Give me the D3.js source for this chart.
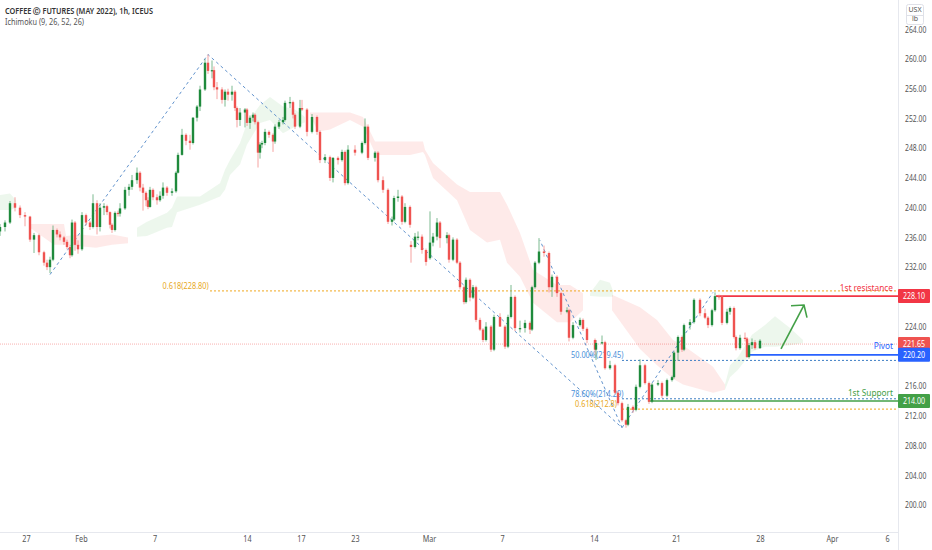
<!DOCTYPE html>
<html>
<head>
<meta charset="UTF-8">
<title>Coffee futures</title>
<style>
    html, body { margin: 0; padding: 0; background: #fff; overflow: hidden; }
    text { font-family: "Noto Sans", sans-serif; }
    .axis path, .axis line { display: none; }
    .axis text { font-size: 8.5px; fill: #555; font-family: "Noto Sans", sans-serif; }
</style>
<script src="https://cdn.jsdelivr.net/npm/d3@7"></script>
</head>
<body>
<div id="chart"></div>
<script>
// bar number (2 px a bar on the picture), open, high, low, close
const candles = [
[0,236.8,237.8,236.2,237.4],[2.5,237.4,238.3,236.8,238.0],[5,238.0,240.9,237.8,240.6],[7.5,240.6,241.4,239.5,240.0],
[10,240.0,240.3,238.6,239.0],[12.5,239.0,239.4,237.5,238.8],[15,238.8,238.9,235.4,235.7],[17,235.7,236.6,233.9,236.3],
[19.5,236.3,236.5,233.6,234.0],[22,234.0,234.2,232.2,232.6],[23.5,232.6,233.0,231.6,232.0],[25,232.0,233.4,231.2,233.0],
[26.5,233.0,237.6,232.8,237.0],[28.5,237.0,237.2,236.0,236.4],[30,236.4,236.8,235.6,236.0],[32,236.0,236.2,235.0,235.4],
[33.5,235.4,235.7,234.4,234.7],[35,234.7,235.0,233.2,233.6],[36,233.6,238.4,233.4,238.0],[37.5,238.0,238.2,234.2,235.0],
[39,235.0,235.6,233.8,234.4],[41,234.4,239.4,234.2,239.0],[43,239.0,239.2,237.6,238.0],[45,238.0,238.2,237.0,237.4],
[46.5,237.4,241.8,237.2,240.6],[48.5,240.6,241.0,236.4,237.4],[50,237.4,240.6,236.8,240.0],[52,240.0,240.6,239.0,240.2],
[53.5,240.2,240.4,239.0,239.4],[55,239.4,239.5,237.2,237.7],[56,237.7,237.9,236.6,237.0],[57.5,237.0,239.5,236.8,239.3],
[59,239.3,239.6,238.8,239.2],[60,239.2,240.6,238.8,239.9],[62.5,239.9,242.8,239.7,242.4],[64.5,242.4,243.2,241.6,242.8],
[66,242.8,244.4,242.4,243.7],[68.5,243.7,245.4,243.2,244.7],[70,244.7,244.9,242.2,242.7],[71.5,242.7,243.2,239.6,242.0],
[73,242.0,242.2,240.2,241.0],[74,241.0,241.4,239.8,240.1],[75,240.1,242.8,240.0,242.4],[76.5,242.4,242.6,241.0,241.4],
[78.5,241.4,241.8,240.4,241.0],[80,241.0,242.2,240.8,241.6],[81.5,241.6,243.4,241.2,242.7],[83.5,242.7,242.9,241.6,242.0],
[86,242.0,242.6,241.6,242.2],[88,242.2,244.9,242.0,244.7],[89,244.7,247.4,244.6,247.1],[91,247.1,250.6,247.0,249.8],
[93,249.8,250.0,248.4,249.0],[95,249.0,249.8,247.8,248.7],[96.5,248.7,252.2,248.5,252.1],[98.5,252.1,253.8,251.6,253.6],
[100,253.6,256.4,253.0,255.9],[102.5,255.9,260.0,255.7,259.5],[104,259.5,260.6,258.0,258.4],[106,258.4,259.8,257.4,258.5],
[107,258.5,259.0,255.8,256.2],[108.5,256.2,256.9,254.6,255.9],[111,255.9,256.2,254.0,254.5],[112.5,254.5,255.9,253.6,255.6],
[114,255.6,256.0,254.4,255.2],[116,255.2,256.4,254.4,255.6],[117.5,255.6,255.8,253.0,253.4],[118.5,253.4,253.6,250.8,251.8],
[120,251.8,253.4,251.0,252.8],[122.5,252.8,253.4,250.8,253.2],[123.5,253.2,253.4,251.0,251.4],[125,251.4,252.4,250.6,252.1],
[126.5,252.1,252.8,251.6,252.5],[127.5,252.5,252.7,251.2,251.5],[129,251.5,251.7,245.4,247.4],[130,247.4,248.8,246.6,248.5],
[131,248.5,249.0,248.0,248.7],[132.5,248.7,250.6,248.4,250.2],[134.5,250.2,250.4,249.4,249.8],[136.5,249.8,250.0,247.5,248.9],
[137.5,248.9,251.2,248.6,250.9],[139.5,250.9,251.8,250.6,251.5],[141.5,251.5,252.2,251.2,251.8],[142.5,251.8,254.4,251.6,254.1],
[145,254.1,254.9,253.4,254.2],[146.5,254.2,254.4,252.0,252.5],[147.5,252.5,252.7,250.6,250.9],[150,250.9,254.5,250.7,253.4],
[151,253.4,254.5,253.0,253.2],[153.5,253.2,253.4,249.6,250.2],[156,250.2,252.6,250.0,252.2],[158.5,252.2,252.4,249.8,250.2],
[160,250.2,250.4,246.0,246.4],[162.5,246.4,247.2,246.0,246.8],[165,246.8,247.0,243.6,244.0],[166.5,244.0,246.8,243.4,246.7],
[169,246.7,246.9,245.8,246.4],[171,246.4,247.8,246.2,247.5],[172.5,247.5,247.7,243.0,243.3],[174,243.3,248.4,243.1,247.8],
[177.5,247.8,248.4,247.0,247.4],[181,247.4,248.9,247.2,248.7],[182.5,248.7,252.0,248.5,250.9],[184,250.9,251.2,246.4,246.7],
[187.5,246.7,247.6,246.2,247.4],[189,247.4,247.6,243.4,243.7],[191.5,243.7,244.2,242.0,242.4],[194,242.4,242.6,237.8,238.1],
[196,238.1,238.8,237.6,238.4],[197,238.4,241.6,238.2,241.3],[199,241.3,242.4,240.8,241.5],[201,241.5,241.7,237.7,238.1],
[202.5,238.1,240.6,237.9,240.1],[205,240.1,240.3,237.3,237.7],
[205.5,235.0,235.5,232.6,234.7],[207.5,234.7,236.6,234.5,236.1],[209,236.1,236.8,235.6,236.1],[211,236.1,236.4,233.8,234.3],
[213,234.3,234.5,232.2,232.7],[215,233.2,239.5,233.0,235.3],[216.5,235.3,236.6,234.8,236.1],[218.5,236.1,238.6,235.6,238.0],
[220,238.0,238.2,234.6,235.9],[223.5,235.9,236.7,235.2,236.3],[224.5,236.3,236.5,232.6,233.0],[226.5,233.0,236.0,232.8,235.7],
[228.5,235.7,235.9,232.4,232.6],[230,232.6,232.8,229.0,229.3],[232,229.3,229.5,227.0,227.3],[233,227.3,230.6,227.1,230.3],
[235,230.3,230.5,227.4,227.9],[236.5,227.9,229.6,227.7,229.3],[238,229.3,229.5,224.6,224.9],[240,224.9,225.2,223.4,223.6],
[241.5,223.6,223.8,221.9,222.2],[243,222.2,224.6,222.0,224.0],[245.5,224.0,224.2,220.6,220.9],[247,220.9,225.6,220.7,225.3],
[250,225.3,225.8,224.0,224.0],[252.5,224.0,224.2,221.0,221.3],[254,221.3,225.6,221.1,225.3],[255.5,225.3,229.6,225.1,228.0],
[257.5,228.0,228.2,223.4,223.8],[260,223.8,224.8,223.2,223.8],[262.5,223.8,224.9,223.2,224.5],[265,224.5,224.7,223.0,223.6],
[266,223.6,229.5,223.4,229.3],[267.5,229.3,232.8,229.1,232.6],[269.5,232.6,235.9,232.4,234.1],[272,234.1,234.9,233.4,233.9],
[274.5,233.9,234.1,228.6,229.3],[276,229.3,231.0,228.0,230.7],[278.5,230.7,230.9,228.0,228.5],[280.5,228.5,228.7,225.6,226.0],
[283.5,226.0,226.6,225.8,226.2],[284.5,226.2,226.4,222.0,222.5],[286.5,222.5,224.6,222.3,224.2],[290,224.2,225.2,224.0,224.9],
[291.5,224.9,225.1,223.4,223.7],[293.5,223.7,223.9,221.8,222.2],[297.5,222.2,222.4,220.2,220.9],[298,220.9,222.2,219.5,221.8],
[301,221.8,222.8,221.6,221.9],[302.5,221.9,222.1,218.2,218.4],[305,218.4,219.4,218.2,218.8],[307.5,218.8,219.0,214.9,215.1],
[309,215.1,215.3,213.4,213.7],[311,213.7,213.9,211.2,211.4],[313,211.4,211.6,210.4,210.8],[314,210.8,213.6,210.6,213.2],
[316.5,213.2,213.4,212.4,212.8],[318,212.8,216.2,212.6,215.9],[320,215.9,219.6,215.7,218.8],[322.5,218.8,219.0,216.2,216.4],
[324.5,216.4,216.6,213.6,213.9],[326,213.9,216.4,213.7,216.2],[329,216.2,216.8,216.0,216.4],[331,216.4,216.6,214.4,214.7],
[333.5,214.7,217.0,214.5,216.8],[336,216.8,217.4,216.6,217.2],[337,217.2,220.7,217.0,220.5],[339,220.5,222.8,219.4,222.6],
[341,222.6,222.8,220.6,220.9],[342,220.9,224.4,220.7,224.2],[345,224.2,225.0,223.6,224.6],[347,224.6,227.8,224.4,227.6],
[350,227.6,227.8,225.4,225.8],[352.5,225.8,226.4,225.0,225.2],[354,225.2,225.4,223.8,224.2],[356,224.2,226.4,224.0,226.2],
[357.5,226.2,228.6,226.0,228.1],[359.5,228.1,228.3,227.6,228.0],[361,228.0,228.2,224.2,224.5],[363.5,224.5,226.4,224.3,226.0],
[365,226.0,226.7,225.6,226.5],[367,226.5,226.7,222.4,222.6],[368,222.6,222.8,220.8,221.1],[370,221.1,222.9,220.9,222.5],
[372.5,222.5,223.2,222.0,222.4],[373.5,222.4,222.6,219.8,219.9],[374.5,219.9,221.8,219.7,221.5],[376,221.5,222.4,221.0,221.9],
[377.5,221.9,222.2,220.9,221.1],[380,221.1,222.3,221.0,222.1]
];

// ichimoku cloud pieces: bar number, span top, span bottom
const cloudGreenA = [[0,241.7,239.7],[5,241.9,239.7],[8,241.0,240.0]];
const cloudRedA = [[15,237.8,237.3],[27,237.8,235.0],[32,237.8,235.0],[33,236.2,235.0],[40,236.4,234.8],[48,236.2,234.6],[56,236.4,235.0],[64,236.0,235.2]];
const cloudGreenB = [[68.5,237.3,236.1],[73.5,238.1,236.2],[83.5,239.3,237.3],[86,240.0,237.4],[88.5,241.5,239.4],[100,241.5,240.4],[110,243.3,241.5],[112.5,245.1,242.4],[115,246.4,244.4],
    [120,248.7,245.8],[123.5,251.4,248.5],[130,253.8,251.4],[135,254.9,251.8],[141.5,253.6,250.0],[147.5,253.2,250.9],[152.5,252.2,251.5]];
const cloudRedB = [[155,252.8,252.5],[159,252.8,250.2],[165,252.8,250.5],[175,252.8,251.8],[181.5,252.2,250.9],[187.5,248.9,247.4],[189,248.9,247.1],[205,248.9,247.1],[211.5,248.9,247.5],
    [212.5,247.8,247.1],[216.5,246.0,244.0],[228.5,243.1,241.0],[235,242.1,237.0],[243.5,242.1,235.3],[250,242.1,235.7],[253.5,240.4,232.6],[260,236.6,230.7],[266.5,231.6,227.2],[278.5,229.6,224.6],[285,229.6,224.6],[291.5,228.5,226.2]];
const cloudGreenC = [[295,228.5,228.1],[300,230.3,228.0],[305,229.9,228.0],[306.5,228.8,228.0]];
const cloudRedC = [[306,228.3,226.2],[320,226.6,221.0],[328.5,224.9,218.8],[336.5,222.2,217.0],[341.5,221.5,216.2],[356.5,218.6,215.1],[362.5,216.2,215.5]];
const cloudGreenD = [[362.5,216.2,215.5],[365,218.8,217.2],[369,219.9,218.2],[376,222.9,220.6],[382.5,224.2,221.3],[387.5,225.4,221.3],[395,223.8,221.5],[401.5,222.2,221.8]];

// dashed fib legs as bar number, price
const fibLegs = [[25,231.0],[104,260.6],[311,210.4],[270,235.6]];
const fibLegUp = [[311,210.4],[356.5,228.6]];

const priceTicks = [200,204,208,212,216,224,232,236,240,244,248,252,256,260,264];
const timeBars = [13,40.5,77.3,123.5,150.5,177.5,214.5,251,297,338,380,416,443.5];
const timeLabels = ["27","Feb","7","14","17","23","Mar","7","14","21","28","Apr","6"];

const width = 932, height = 550, axisX = 898, axisY = 532;

const x = d3.scaleLinear().domain([0, 449]).range([0, axisX]);
const y = d3.scaleLinear().domain([200, 260]).range([505, 59]);

// the labels on the picture are squeezed sideways, so narrow the glyphs to match
function squeeze(sel, k) {
    sel.attr("lengthAdjust", "spacingAndGlyphs")
        .attr("textLength", function () { return this.getComputedTextLength() * k; });
}

const svg = d3.select("#chart").append("svg")
    .attr("width", width).attr("height", height).style("display", "block");

// clouds
const cloud = d3.area().x(d => x(d[0])).y0(d => y(d[2])).y1(d => y(d[1]));
[cloudGreenA, cloudGreenB, cloudGreenC, cloudGreenD].forEach(c => {
    svg.append("path").attr("d", cloud(c)).attr("fill", "#4caf50").attr("opacity", 0.1);
});
[cloudRedA, cloudRedB, cloudRedC].forEach(c => {
    svg.append("path").attr("d", cloud(c)).attr("fill", "#f44336").attr("opacity", 0.11);
});

// last price line
svg.append("line").attr("x1", 0).attr("x2", axisX).attr("y1", y(221.65)).attr("y2", y(221.65))
    .attr("stroke", "#ef5350").attr("stroke-opacity", 0.45).attr("stroke-dasharray", "1,1");

// horizontal levels: start bar, price, colour, dash, width
const levels = [
    [105, 228.8, "#f0a81e", "2,2", 1],
    [311, 219.45, "#3f7fc4", "2,2", 1],
    [311, 214.29, "#3f7fc4", "2,2", 1],
    [311, 212.9, "#f0a81e", "2,2", 1],
    [358, 228.1, "#f23645", null, 1.6],
    [373, 220.2, "#2962ff", null, 1.6],
    [324, 214.0, "#43a047", null, 1.6]
];
levels.forEach(l => {
    svg.append("line")
        .attr("x1", x(l[0])).attr("x2", axisX).attr("y1", y(l[1])).attr("y2", y(l[1]))
        .attr("stroke", l[2]).attr("stroke-width", l[4]).attr("stroke-dasharray", l[3]);
});

// fib level captions sit under the candles
const fibText = [
    [162.5, 286, "0.618(228.80)", "#e8a824"],
    [571, 355, "50.00%(219.45)", "#4a90d9"],
    [571, 394, "78.60%(214.29)", "#4a90d9"],
    [575, 404.5, "0.618(212.8)", "#e8a824"]
];
fibText.forEach(t => {
    svg.append("text").attr("x", t[0]).attr("y", t[1]).attr("dy", "0.35em")
        .attr("font-size", 8).attr("fill", t[3]).text(t[2]).call(squeeze, 0.92);
});

// fib legs
const leg = d3.line().x(d => x(d[0])).y(d => y(d[1]));
[fibLegs, fibLegUp].forEach(l => {
    svg.append("path").attr("d", leg(l)).attr("fill", "none")
        .attr("stroke", "#4f86c6").attr("stroke-width", 0.9).attr("stroke-dasharray", "3,3");
});

// candles
const upColor = "#1f8a3c", downColor = "#ef5350";
const colorOf = d => d[4] >= d[1] ? upColor : downColor;
svg.append("g").selectAll("line").data(candles).join("line")
    .attr("x1", d => x(d[0])).attr("x2", d => x(d[0]))
    .attr("y1", d => y(d[2])).attr("y2", d => y(d[3]))
    .attr("stroke", d => d[4] >= d[1] ? "#5aa873" : "#f28b88").attr("stroke-width", 0.8);
svg.append("g").selectAll("rect").data(candles).join("rect")
    .attr("x", d => x(d[0]) - 1.2).attr("width", 2.4)
    .attr("y", d => y(Math.max(d[1], d[4])))
    .attr("height", d => Math.max(1.2, Math.abs(y(d[1]) - y(d[4]))))
    .attr("fill", colorOf);

// hand drawn arrow, bar number and price
const arrowShaft = [[390.5,221.0],[402,226.9]];
const arrowHead = [[395.5,226.8],[402,226.9],[403.5,225.2]];
[arrowShaft, arrowHead].forEach(a => {
    svg.append("path").attr("d", leg(a)).attr("fill", "none")
        .attr("stroke", "#43a047").attr("stroke-width", 1.6);
});

// level names
const levelNames = [
    [893, 288, "1st resistance", "#f23645"],
    [893, 346, "Pivot", "#2962ff"],
    [893, 393, "1st Support", "#43a047"]
];
levelNames.forEach(t => {
    svg.append("text").attr("x", t[0]).attr("y", t[1]).attr("dy", "0.35em")
        .attr("text-anchor", "end").attr("font-size", 9).attr("fill", t[3]).text(t[2]).call(squeeze, 0.92);
});

// axes
svg.append("line").attr("x1", axisX + 0.5).attr("x2", axisX + 0.5).attr("y1", 0).attr("y2", height).attr("stroke", "#e6e8ee");
svg.append("line").attr("x1", 0).attr("x2", axisX).attr("y1", axisY + 0.5).attr("y2", axisY + 0.5).attr("stroke", "#e6e8ee");

const yAxisG = svg.append("g").attr("class", "axis").attr("transform", `translate(${axisX},0)`)
    .call(d3.axisRight(y).tickValues(priceTicks).tickSize(0).tickPadding(7).tickFormat(d => d.toFixed(2)));
yAxisG.selectAll("text").call(squeeze, 0.8);

const xAxis = d3.axisBottom(x).tickValues(timeBars).tickSize(0).tickPadding(4)
    .tickFormat((d, i) => timeLabels[i]);
const xAxisG = svg.append("g").attr("class", "axis").attr("transform", `translate(0,${axisY})`).call(xAxis);
xAxisG.selectAll("text").call(squeeze, 0.85);

// price tags on the scale
const priceTags = [
    [228.10, "#f23645"],
    [221.65, "#ef5350"],
    [220.20, "#2962ff"],
    [214.00, "#43a047"]
];
priceTags.forEach(t => {
    svg.append("rect").attr("x", axisX).attr("y", y(t[0]) - 7).attr("width", 32).attr("height", 14).attr("rx", 1).attr("fill", t[1]);
    svg.append("text").attr("x", axisX + 16).attr("y", y(t[0])).attr("dy", "0.35em")
        .attr("text-anchor", "middle").attr("font-size", 8).attr("fill", "#fff").text(t[0].toFixed(2)).call(squeeze, 0.88);
});

// currency and unit boxes
svg.append("rect").attr("x", 906.5).attr("y", 4.5).attr("width", 17).attr("height", 20).attr("rx", 2)
    .attr("fill", "#fff").attr("stroke", "#dfe1e8");
svg.append("line").attr("x1", 906.5).attr("x2", 923.5).attr("y1", 15.5).attr("y2", 15.5).attr("stroke", "#dfe1e8");
svg.append("text").attr("x", 915).attr("y", 9.5).attr("dy", "0.35em").attr("text-anchor", "middle")
    .attr("font-size", 7).attr("fill", "#555").text("USX");
svg.append("text").attr("x", 915).attr("y", 19).attr("dy", "0.35em").attr("text-anchor", "middle")
    .attr("font-size", 7).attr("fill", "#555").text("lb");

// title
svg.append("text").attr("x", 5).attr("y", 11).attr("dy", "0.35em")
    .attr("font-size", 8).attr("font-weight", 600).attr("fill", "#333").text("COFFEE Ⓒ FUTURES (MAY 2022), 1h, ICEUS")
    .attr("lengthAdjust", "spacingAndGlyphs").attr("textLength", 148);
svg.append("text").attr("x", 5).attr("y", 22).attr("dy", "0.35em")
    .attr("font-size", 8).attr("fill", "#555").text("Ichimoku (9, 26, 52, 26)")
    .attr("lengthAdjust", "spacingAndGlyphs").attr("textLength", 79);
</script>
</body>
</html>
